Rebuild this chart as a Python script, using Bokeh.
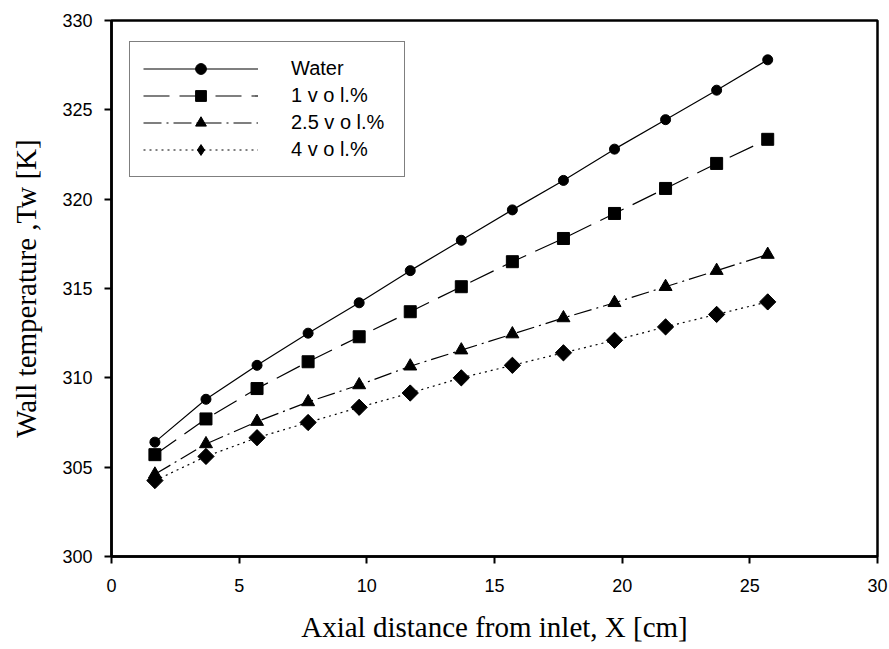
from bokeh.plotting import figure
from bokeh.models import Range1d, Legend, LegendItem, FixedTicker
from bokeh.embed import file_html
from bokeh.resources import INLINE

# ---- data ----
x_cm = [1.7, 3.7, 5.7, 7.7, 9.7, 11.7, 13.7, 15.7, 17.7, 19.7, 21.7, 23.7, 25.7]
water = [306.4, 308.8, 310.7, 312.5, 314.2, 316.0, 317.7, 319.4, 321.05, 322.8, 324.45, 326.1, 327.8]
vol_1 = [305.7, 307.7, 309.4, 310.9, 312.3, 313.7, 315.1, 316.5, 317.8, 319.2, 320.6, 322.0, 323.35]
vol_2_5 = [304.6, 306.3, 307.55, 308.65, 309.6, 310.65, 311.55, 312.45, 313.35, 314.2, 315.1, 316.0, 316.9]
vol_4 = [304.25, 305.6, 306.65, 307.5, 308.35, 309.15, 310.0, 310.7, 311.4, 312.1, 312.85, 313.55, 314.25]

series_labels = ["Water", "1 v o l.%", "2.5 v o l.%", "4 v o l.%"]
x_ticks = [0, 5, 10, 15, 20, 25, 30]
y_ticks = [300, 305, 310, 315, 320, 325, 330]

p = figure(width=889, height=649,
           x_range=Range1d(0, 30), y_range=Range1d(300, 330),
           output_backend="svg", toolbar_location=None,
           min_border_left=111, min_border_right=12,
           min_border_top=20, min_border_bottom=93)

p.grid.visible = False
p.outline_line_color = "black"
p.outline_line_width = 2.5
p.background_fill_color = "white"
p.border_fill_color = "white"

for ax in (p.xaxis[0], p.yaxis[0]):
    ax.axis_line_width = 2.5
    ax.axis_line_color = "black"
    ax.major_tick_line_width = 2
    ax.major_tick_line_color = "black"
    ax.major_tick_out = 7
    ax.major_tick_in = 0
    ax.minor_tick_line_color = None
    ax.major_label_text_font = "Liberation Sans"
    ax.major_label_text_font_size = "18px"
    ax.major_label_text_color = "black"
    ax.axis_label_text_font = "Liberation Serif"
    ax.axis_label_text_font_style = "normal"
    ax.axis_label_text_color = "black"

p.xaxis.axis_label_text_font_size = "29px"
p.yaxis.axis_label_text_font_size = "29px"
p.xaxis.ticker = FixedTicker(ticks=x_ticks)
p.yaxis.ticker = FixedTicker(ticks=y_ticks)
p.xaxis.axis_label = "Axial distance from inlet, X [cm]"
p.yaxis.axis_label = "Wall temperature ,Tw [K]"
p.xaxis.major_label_standoff = 15
p.yaxis.major_label_standoff = 12
p.xaxis.axis_label_standoff = 16
p.yaxis.axis_label_standoff = 17

# diamonds of the 4 vol.% series are drawn as squares turned by 45 degrees in
# the plot; a plain diamond glyph of the same points sits inside them and
# provides the legend sample.
specs = [
    (water, "solid", "circle", 10),
    (vol_1, "26 10", "square", 12),
    (vol_2_5, "18 5 2 5", "triangle", 13),
    (vol_4, "2 4", "diamond", 15),
]

items = []
for (ys, dash, marker, size), label in zip(specs, series_labels):
    ln = p.line(x_cm, ys, line_color="black", line_width=1.2, line_dash=dash)
    if marker == "diamond":
        p.scatter(x_cm, ys, marker="square", size=11.5, angle=0.785398,
                  fill_color="black", line_color="black", line_width=1)
    sc = p.scatter(x_cm, ys, marker=marker, size=size,
                   fill_color="black", line_color="black", line_width=1)
    items.append(LegendItem(label=label, renderers=[ln, sc]))

legend = Legend(items=items, location=(18, 379))
legend.glyph_width = 115
legend.glyph_height = 27
legend.label_height = 27
legend.label_width = 100
legend.label_standoff = 33
legend.spacing = 0
legend.padding = 13
legend.margin = 0
legend.border_line_color = "black"
legend.border_line_width = 1.5
legend.label_text_font = "Liberation Sans"
legend.label_text_font_size = "20px"
legend.label_text_color = "black"
legend.background_fill_alpha = 1.0
p.add_layout(legend)

open("out.html", "w").write(file_html(p, INLINE))
